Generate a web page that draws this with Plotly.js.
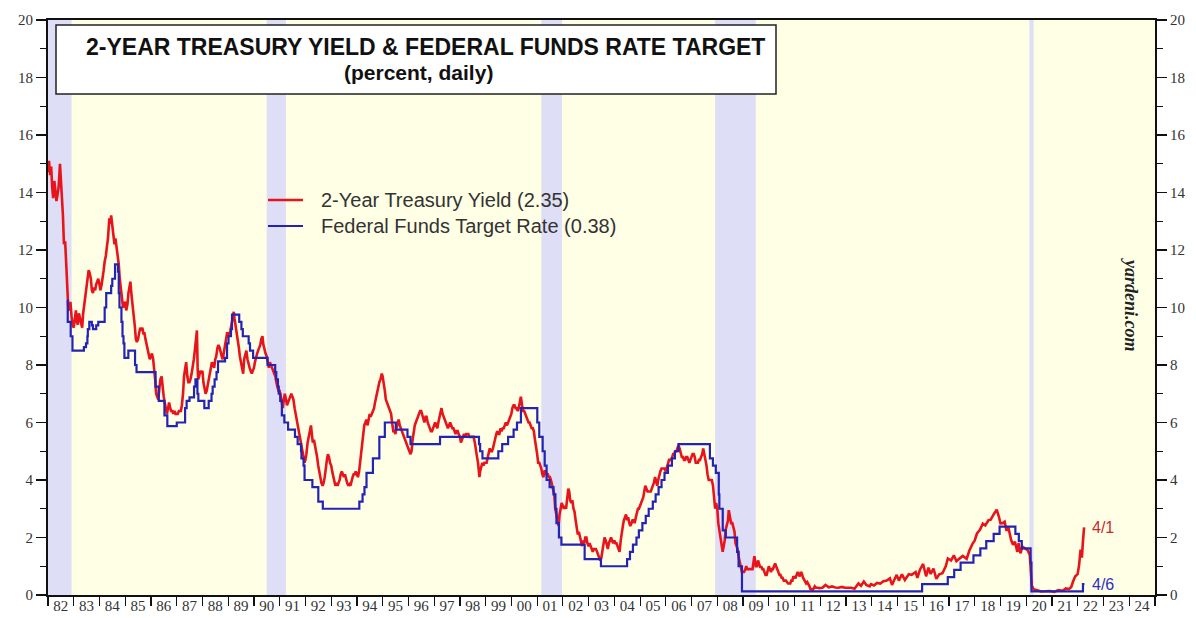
<!DOCTYPE html>
<html>
<head>
<meta charset="utf-8">
<script src="https://cdn.plot.ly/plotly-3.0.1.min.js"></script>
<style>html,body{margin:0;padding:0;background:#fff;}#chart{width:1196px;height:618px;}</style>
</head>
<body>
<div id="chart"></div>
<script>
// 2-year Treasury yield (percent)
const yield2y = [
['1982-01-04',14.7],['1982-01-15',15.1],['1982-02-01',14.6],['1982-02-15',14.9],['1982-03-01',14.2],['1982-03-15',13.8],['1982-04-01',14.4],['1982-04-15',14.0],['1982-05-01',13.7],['1982-05-15',13.9],['1982-06-01',14.2],['1982-06-20',15.0],['1982-07-01',14.6],['1982-07-15',14.0],['1982-08-01',13.2],['1982-08-15',12.2],['1982-09-01',12.3],['1982-09-15',11.6],['1982-10-01',10.9],['1982-10-15',10.0],['1982-11-01',9.9],['1982-11-15',10.2],['1982-12-01',9.7],['1982-12-15',9.4],
['1983-01-01',9.3],['1983-01-15',9.6],['1983-02-01',9.9],['1983-02-15',9.5],['1983-03-01',9.4],['1983-03-15',9.8],['1983-04-01',9.6],['1983-04-15',9.4],['1983-05-01',9.3],['1983-05-15',9.8],['1983-06-01',10.1],['1983-06-15',10.4],['1983-07-01',10.6],['1983-07-15',10.9],['1983-08-01',11.3],['1983-08-15',11.2],['1983-09-01',11.0],['1983-09-15',10.6],['1983-10-01',10.5],['1983-10-15',10.7],['1983-11-01',10.6],['1983-11-15',10.8],['1983-12-01',10.9],['1983-12-15',11.0],
['1984-01-01',10.8],['1984-01-15',10.6],['1984-02-01',10.8],['1984-02-15',11.0],['1984-03-01',11.3],['1984-03-15',11.6],['1984-04-01',11.8],['1984-04-15',12.1],['1984-05-01',12.4],['1984-05-20',13.1],['1984-06-01',12.9],['1984-06-15',13.2],['1984-07-01',12.9],['1984-07-15',12.6],['1984-08-01',12.2],['1984-08-15',12.4],['1984-09-01',12.1],['1984-09-15',11.8],['1984-10-01',11.5],['1984-10-15',11.0],['1984-11-01',10.6],['1984-11-15',10.2],['1984-12-01',10.0],['1984-12-15',10.1],
['1985-01-01',10.2],['1985-01-15',9.9],['1985-02-01',10.1],['1985-02-15',10.5],['1985-03-01',10.8],['1985-03-15',10.9],['1985-04-01',10.4],['1985-04-15',10.1],['1985-05-01',9.9],['1985-05-15',9.4],['1985-06-01',8.9],['1985-06-15',8.8],['1985-07-01',8.9],['1985-07-15',9.1],['1985-08-01',9.3],['1985-08-15',9.2],['1985-09-01',9.3],['1985-09-15',9.1],['1985-10-01',9.1],['1985-10-15',8.9],['1985-11-01',8.7],['1985-11-15',8.5],['1985-12-01',8.3],['1985-12-15',8.2],
['1986-01-01',8.3],['1986-01-15',8.4],['1986-02-01',8.2],['1986-02-15',7.9],['1986-03-01',7.5],['1986-03-15',7.0],['1986-04-01',6.9],['1986-04-15',6.8],['1986-05-01',7.2],['1986-05-15',7.5],['1986-06-01',7.6],['1986-06-15',7.1],['1986-07-01',6.9],['1986-07-15',6.7],['1986-08-01',6.5],['1986-08-15',6.3],['1986-09-01',6.5],['1986-09-15',6.7],['1986-10-01',6.5],['1986-10-15',6.4],['1986-11-01',6.4],['1986-11-15',6.3],['1986-12-01',6.4],['1986-12-15',6.3],
['1987-01-01',6.3],['1987-01-15',6.3],['1987-02-01',6.4],['1987-02-15',6.4],['1987-03-01',6.4],['1987-03-15',6.6],['1987-04-01',7.0],['1987-04-15',7.6],['1987-05-01',7.9],['1987-05-15',8.1],['1987-06-01',7.6],['1987-06-15',7.4],['1987-07-01',7.4],['1987-07-15',7.5],['1987-08-01',7.7],['1987-08-15',7.9],['1987-09-01',8.2],['1987-09-15',8.5],['1987-10-01',8.8],['1987-10-15',9.2],['1987-10-25',7.9],['1987-11-01',7.5],['1987-11-15',7.6],['1987-12-01',7.8],['1987-12-15',7.7],
['1988-01-01',7.8],['1988-01-15',7.4],['1988-02-01',7.2],['1988-02-15',7.0],['1988-03-01',7.1],['1988-03-15',7.3],['1988-04-01',7.5],['1988-04-15',7.7],['1988-05-01',8.0],['1988-05-15',8.1],['1988-06-01',8.0],['1988-06-15',7.9],['1988-07-01',8.2],['1988-07-15',8.3],['1988-08-01',8.6],['1988-08-15',8.7],['1988-09-01',8.6],['1988-09-15',8.4],['1988-10-01',8.3],['1988-10-15',8.2],['1988-11-01',8.5],['1988-11-15',8.7],['1988-12-01',9.0],['1988-12-15',9.1],
['1989-01-01',9.1],['1989-01-15',9.0],['1989-02-01',9.2],['1989-02-15',9.4],['1989-03-01',9.7],['1989-03-20',9.85],['1989-04-01',9.6],['1989-04-15',9.4],['1989-05-01',9.2],['1989-05-15',9.0],['1989-06-01',8.6],['1989-06-15',8.3],['1989-07-01',8.1],['1989-07-15',7.8],['1989-08-01',7.7],['1989-08-15',8.2],['1989-09-01',8.4],['1989-09-15',8.5],['1989-10-01',8.2],['1989-10-15',8.0],['1989-11-01',7.9],['1989-11-15',7.8],['1989-12-01',7.7],['1989-12-15',7.8],
['1990-01-01',7.9],['1990-01-15',8.1],['1990-02-01',8.3],['1990-02-15',8.4],['1990-03-01',8.5],['1990-03-15',8.6],['1990-04-01',8.7],['1990-04-15',8.9],['1990-05-01',9.0],['1990-05-15',8.7],['1990-06-01',8.5],['1990-06-15',8.4],['1990-07-01',8.3],['1990-07-15',8.1],['1990-08-01',7.9],['1990-08-15',8.1],['1990-09-01',8.0],['1990-09-15',7.9],['1990-10-01',7.8],['1990-10-15',7.7],['1990-11-01',7.6],['1990-11-15',7.4],['1990-12-01',7.2],['1990-12-15',7.1],
['1991-01-01',7.1],['1991-01-15',6.9],['1991-02-01',6.6],['1991-02-15',6.5],['1991-03-01',6.8],['1991-03-15',7.0],['1991-04-01',6.8],['1991-04-15',6.6],['1991-05-01',6.7],['1991-05-15',6.8],['1991-06-01',6.9],['1991-06-15',7.0],['1991-07-01',6.9],['1991-07-15',6.8],['1991-08-01',6.5],['1991-08-15',6.3],['1991-09-01',6.1],['1991-09-15',5.9],['1991-10-01',5.7],['1991-10-15',5.5],['1991-11-01',5.3],['1991-11-15',5.1],['1991-12-01',4.9],['1991-12-20',4.6],
['1992-01-01',4.7],['1992-01-15',4.9],['1992-02-01',5.3],['1992-02-15',5.5],['1992-03-01',5.7],['1992-03-20',5.9],['1992-04-01',5.6],['1992-04-15',5.3],['1992-05-01',5.4],['1992-05-15',5.2],['1992-06-01',5.1],['1992-06-15',4.8],['1992-07-01',4.5],['1992-07-15',4.3],['1992-08-01',4.1],['1992-08-15',3.9],['1992-09-01',3.8],['1992-09-15',3.9],['1992-10-01',4.1],['1992-10-15',4.5],['1992-11-01',4.7],['1992-11-15',4.9],['1992-12-01',4.8],['1992-12-15',4.6],
['1993-01-01',4.5],['1993-01-15',4.3],['1993-02-01',4.1],['1993-02-15',3.9],['1993-03-01',3.8],['1993-03-15',3.9],['1993-04-01',3.8],['1993-04-15',3.9],['1993-05-01',4.0],['1993-05-15',4.2],['1993-06-01',4.3],['1993-06-15',4.2],['1993-07-01',4.1],['1993-07-15',4.2],['1993-08-01',4.0],['1993-08-15',3.9],['1993-09-01',3.8],['1993-09-15',3.85],['1993-10-01',3.8],['1993-10-15',3.9],['1993-11-01',4.1],['1993-11-15',4.2],['1993-12-01',4.2],['1993-12-15',4.3],
['1994-01-01',4.2],['1994-01-15',4.1],['1994-02-01',4.3],['1994-02-15',4.6],['1994-03-01',4.9],['1994-03-15',5.2],['1994-04-01',5.6],['1994-04-15',5.9],['1994-05-01',6.0],['1994-05-15',6.1],['1994-06-01',5.9],['1994-06-15',6.1],['1994-07-01',6.3],['1994-07-15',6.2],['1994-08-01',6.3],['1994-08-15',6.4],['1994-09-01',6.5],['1994-09-15',6.7],['1994-10-01',6.9],['1994-10-15',7.0],['1994-11-01',7.2],['1994-11-15',7.4],['1994-12-01',7.5],['1994-12-20',7.7],
['1995-01-01',7.6],['1995-01-15',7.4],['1995-02-01',7.1],['1995-02-15',6.8],['1995-03-01',6.7],['1995-03-15',6.6],['1995-04-01',6.5],['1995-04-15',6.4],['1995-05-01',6.3],['1995-05-15',6.0],['1995-06-01',5.7],['1995-06-15',5.7],['1995-07-01',5.6],['1995-07-15',5.8],['1995-08-01',6.0],['1995-08-15',6.1],['1995-09-01',5.9],['1995-09-15',5.8],['1995-10-01',5.7],['1995-10-15',5.6],['1995-11-01',5.5],['1995-11-15',5.4],['1995-12-01',5.3],['1995-12-15',5.2],
['1996-01-01',5.1],['1996-01-15',5.0],['1996-02-01',4.9],['1996-02-15',5.0],['1996-03-01',5.4],['1996-03-15',5.7],['1996-04-01',5.9],['1996-04-15',6.0],['1996-05-01',6.1],['1996-05-15',6.2],['1996-06-01',6.3],['1996-06-15',6.4],['1996-07-01',6.4],['1996-07-15',6.3],['1996-08-01',6.1],['1996-08-15',6.0],['1996-09-01',6.2],['1996-09-15',6.2],['1996-10-01',6.0],['1996-10-15',5.9],['1996-11-01',5.8],['1996-11-15',5.7],['1996-12-01',5.7],['1996-12-15',5.8],
['1997-01-01',5.9],['1997-01-15',6.0],['1997-02-01',5.9],['1997-02-15',5.8],['1997-03-01',6.0],['1997-03-15',6.2],['1997-04-01',6.4],['1997-04-15',6.5],['1997-05-01',6.3],['1997-05-15',6.2],['1997-06-01',6.1],['1997-06-15',6.0],['1997-07-01',5.9],['1997-07-15',5.8],['1997-08-01',5.9],['1997-08-15',6.0],['1997-09-01',5.9],['1997-09-15',5.8],['1997-10-01',5.8],['1997-10-15',5.7],['1997-11-01',5.6],['1997-11-15',5.7],['1997-12-01',5.7],['1997-12-15',5.6],
['1998-01-01',5.5],['1998-01-15',5.3],['1998-02-01',5.4],['1998-02-15',5.5],['1998-03-01',5.6],['1998-03-15',5.5],['1998-04-01',5.6],['1998-04-15',5.6],['1998-05-01',5.6],['1998-05-15',5.5],['1998-06-01',5.5],['1998-06-15',5.5],['1998-07-01',5.5],['1998-07-15',5.5],['1998-08-01',5.3],['1998-08-15',5.0],['1998-09-01',4.8],['1998-09-15',4.6],['1998-10-05',4.1],['1998-10-15',4.3],['1998-11-01',4.5],['1998-11-15',4.6],['1998-12-01',4.5],['1998-12-15',4.6],
['1999-01-01',4.6],['1999-01-15',4.6],['1999-02-01',4.8],['1999-02-15',5.0],['1999-03-01',5.1],['1999-03-15',5.0],['1999-04-01',5.0],['1999-04-15',5.1],['1999-05-01',5.3],['1999-05-15',5.5],['1999-06-01',5.6],['1999-06-15',5.7],['1999-07-01',5.6],['1999-07-15',5.6],['1999-08-01',5.8],['1999-08-15',5.7],['1999-09-01',5.8],['1999-09-15',5.8],['1999-10-01',5.9],['1999-10-15',6.0],['1999-11-01',5.9],['1999-11-15',6.0],['1999-12-01',6.1],['1999-12-15',6.2],
['2000-01-01',6.3],['2000-01-15',6.5],['2000-02-01',6.6],['2000-02-15',6.6],['2000-03-01',6.5],['2000-03-15',6.5],['2000-04-01',6.4],['2000-04-15',6.5],['2000-05-01',6.8],['2000-05-15',6.9],['2000-06-01',6.6],['2000-06-15',6.4],['2000-07-01',6.4],['2000-07-15',6.3],['2000-08-01',6.2],['2000-08-15',6.1],['2000-09-01',6.0],['2000-09-15',6.0],['2000-10-01',5.9],['2000-10-15',5.8],['2000-11-01',5.8],['2000-11-15',5.7],['2000-12-01',5.4],['2000-12-15',5.2],
['2001-01-01',4.9],['2001-01-15',4.6],['2001-02-01',4.6],['2001-02-15',4.5],['2001-03-01',4.4],['2001-03-15',4.2],['2001-04-01',4.1],['2001-04-15',4.3],['2001-05-01',4.3],['2001-05-15',4.2],['2001-06-01',4.2],['2001-06-15',4.1],['2001-07-01',4.1],['2001-07-15',4.0],['2001-08-01',3.8],['2001-08-15',3.7],['2001-09-01',3.5],['2001-09-15',3.0],['2001-10-01',2.8],['2001-10-15',2.6],['2001-11-01',2.4],['2001-11-15',2.8],['2001-12-01',3.0],['2001-12-15',3.2],
['2002-01-01',3.1],['2002-01-15',3.0],['2002-02-01',3.1],['2002-02-15',3.0],['2002-03-01',3.3],['2002-03-20',3.7],['2002-04-01',3.6],['2002-04-15',3.3],['2002-05-01',3.2],['2002-05-15',3.3],['2002-06-01',3.0],['2002-06-15',2.9],['2002-07-01',2.6],['2002-07-15',2.4],['2002-08-01',2.1],['2002-08-15',2.2],['2002-09-01',2.0],['2002-09-15',1.9],['2002-10-01',1.7],['2002-10-15',1.9],['2002-11-01',1.8],['2002-11-15',2.0],['2002-12-01',2.0],['2002-12-15',1.8],
['2003-01-01',1.7],['2003-01-15',1.8],['2003-02-01',1.7],['2003-02-15',1.6],['2003-03-01',1.5],['2003-03-15',1.6],['2003-04-01',1.6],['2003-04-15',1.6],['2003-05-01',1.5],['2003-05-15',1.4],['2003-06-01',1.3],['2003-06-15',1.2],['2003-07-01',1.3],['2003-07-15',1.5],['2003-08-01',1.8],['2003-08-15',2.0],['2003-09-01',1.9],['2003-09-15',1.7],['2003-10-01',1.6],['2003-10-15',1.8],['2003-11-01',1.9],['2003-11-15',2.0],['2003-12-01',1.9],['2003-12-15',1.8],
['2004-01-01',1.9],['2004-01-15',1.8],['2004-02-01',1.8],['2004-02-15',1.7],['2004-03-01',1.6],['2004-03-15',1.5],['2004-04-01',1.9],['2004-04-15',2.2],['2004-05-01',2.4],['2004-05-15',2.6],['2004-06-01',2.7],['2004-06-15',2.8],['2004-07-01',2.6],['2004-07-15',2.7],['2004-08-01',2.5],['2004-08-15',2.4],['2004-09-01',2.5],['2004-09-15',2.6],['2004-10-01',2.6],['2004-10-15',2.5],['2004-11-01',2.7],['2004-11-15',2.9],['2004-12-01',3.0],['2004-12-15',3.0],
['2005-01-01',3.1],['2005-01-15',3.2],['2005-02-01',3.3],['2005-02-15',3.4],['2005-03-01',3.6],['2005-03-15',3.8],['2005-04-01',3.7],['2005-04-15',3.6],['2005-05-01',3.6],['2005-05-15',3.6],['2005-06-01',3.6],['2005-06-15',3.7],['2005-07-01',3.8],['2005-07-15',3.9],['2005-08-01',4.1],['2005-08-15',4.0],['2005-09-01',3.8],['2005-09-15',4.0],['2005-10-01',4.2],['2005-10-15',4.3],['2005-11-01',4.4],['2005-11-15',4.4],['2005-12-01',4.4],['2005-12-15',4.4],
['2006-01-01',4.3],['2006-01-15',4.4],['2006-02-01',4.6],['2006-02-15',4.7],['2006-03-01',4.7],['2006-03-15',4.7],['2006-04-01',4.8],['2006-04-15',4.9],['2006-05-01',4.9],['2006-05-15',5.0],['2006-06-01',5.0],['2006-06-28',5.2],['2006-07-15',5.1],['2006-08-01',4.9],['2006-08-15',4.8],['2006-09-01',4.8],['2006-09-15',4.7],['2006-10-01',4.7],['2006-10-15',4.8],['2006-11-01',4.8],['2006-11-15',4.7],['2006-12-01',4.6],['2006-12-15',4.7],
['2007-01-01',4.8],['2007-01-15',4.9],['2007-02-01',4.9],['2007-02-15',4.8],['2007-03-01',4.6],['2007-03-15',4.6],['2007-04-01',4.6],['2007-04-15',4.7],['2007-05-01',4.7],['2007-05-15',4.8],['2007-06-01',4.9],['2007-06-15',5.1],['2007-07-01',4.9],['2007-07-15',4.8],['2007-08-01',4.5],['2007-08-15',4.2],['2007-09-01',4.0],['2007-09-15',4.0],['2007-10-01',4.0],['2007-10-15',4.0],['2007-11-01',3.8],['2007-11-15',3.3],['2007-12-01',3.0],['2007-12-15',3.2],
['2008-01-01',3.0],['2008-01-15',2.5],['2008-02-01',2.2],['2008-02-15',1.9],['2008-03-01',1.6],['2008-03-17',1.5],['2008-04-01',1.7],['2008-04-15',1.9],['2008-05-01',2.3],['2008-05-15',2.4],['2008-06-01',2.6],['2008-06-12',2.95],['2008-07-01',2.6],['2008-07-15',2.5],['2008-08-01',2.5],['2008-08-15',2.4],['2008-09-01',2.2],['2008-09-15',1.8],['2008-10-01',1.7],['2008-10-15',1.6],['2008-11-01',1.3],['2008-11-15',1.1],['2008-12-01',0.9],['2008-12-15',0.8],
['2009-01-01',0.8],['2009-01-15',0.8],['2009-02-01',0.9],['2009-02-15',1.0],['2009-03-01',0.9],['2009-03-15',0.9],['2009-04-01',0.9],['2009-04-15',0.9],['2009-05-01',0.9],['2009-05-15',0.9],['2009-06-01',1.2],['2009-06-10',1.35],['2009-07-01',1.0],['2009-07-15',1.0],['2009-08-01',1.2],['2009-08-15',1.1],['2009-09-01',0.95],['2009-09-15',1.0],['2009-10-01',0.9],['2009-10-15',0.9],['2009-11-01',0.8],['2009-11-15',0.7],['2009-12-01',0.7],['2009-12-15',0.9],
['2010-01-01',1.0],['2010-01-15',0.9],['2010-02-01',0.8],['2010-02-15',0.9],['2010-03-01',0.9],['2010-03-15',1.0],['2010-04-01',1.1],['2010-04-15',1.0],['2010-05-01',0.9],['2010-05-15',0.8],['2010-06-01',0.7],['2010-06-15',0.7],['2010-07-01',0.6],['2010-07-15',0.6],['2010-08-01',0.5],['2010-08-15',0.5],['2010-09-01',0.5],['2010-09-15',0.45],['2010-10-01',0.4],['2010-10-15',0.4],['2010-11-01',0.4],['2010-11-15',0.5],['2010-12-01',0.5],['2010-12-15',0.65],
['2011-01-01',0.6],['2011-01-15',0.6],['2011-02-01',0.7],['2011-02-15',0.8],['2011-03-01',0.7],['2011-03-15',0.65],['2011-04-01',0.8],['2011-04-15',0.75],['2011-05-01',0.6],['2011-05-15',0.55],['2011-06-01',0.45],['2011-06-15',0.4],['2011-07-01',0.45],['2011-07-15',0.4],['2011-08-01',0.3],['2011-08-15',0.2],['2011-09-01',0.2],['2011-09-15',0.17],['2011-10-01',0.25],['2011-10-15',0.3],['2011-11-01',0.25],['2011-11-15',0.26],['2011-12-01',0.25],['2011-12-15',0.24],
['2012-02-01',0.25],['2012-03-15',0.35],['2012-05-01',0.27],['2012-06-15',0.3],['2012-08-01',0.26],['2012-09-15',0.25],['2012-11-01',0.28],['2012-12-15',0.25],
['2013-02-01',0.26],['2013-03-15',0.25],['2013-05-01',0.22],['2013-06-25',0.4],['2013-08-01',0.32],['2013-09-10',0.47],['2013-10-15',0.35],['2013-12-01',0.3],['2013-12-20',0.38],
['2014-02-01',0.33],['2014-03-15',0.42],['2014-05-01',0.4],['2014-06-15',0.48],['2014-08-01',0.5],['2014-09-15',0.58],['2014-10-15',0.35],['2014-11-15',0.52],['2014-12-20',0.7],
['2015-01-20',0.5],['2015-03-05',0.72],['2015-04-15',0.52],['2015-06-10',0.72],['2015-07-20',0.7],['2015-09-15',0.8],['2015-10-10',0.6],['2015-11-15',0.88],['2015-12-30',1.08],
['2016-02-10',0.65],['2016-03-15',0.95],['2016-04-15',0.73],['2016-05-25',0.92],['2016-07-05',0.56],['2016-08-15',0.72],['2016-09-30',0.76],['2016-11-15',1.0],['2016-12-15',1.27],
['2017-01-30',1.2],['2017-03-10',1.38],['2017-04-15',1.18],['2017-06-01',1.28],['2017-07-15',1.36],['2017-09-08',1.26],['2017-10-15',1.54],['2017-11-30',1.78],['2017-12-30',1.89],
['2018-02-01',2.14],['2018-03-15',2.27],['2018-04-25',2.48],['2018-05-30',2.42],['2018-07-15',2.6],['2018-08-15',2.62],['2018-09-30',2.82],['2018-11-08',2.97],['2018-12-10',2.72],['2018-12-31',2.49],
['2019-02-01',2.5],['2019-03-01',2.55],['2019-03-28',2.23],['2019-04-20',2.38],['2019-05-31',1.92],['2019-06-28',1.75],['2019-07-25',1.85],['2019-08-28',1.5],['2019-09-15',1.8],['2019-10-10',1.45],['2019-11-10',1.68],['2019-12-31',1.58],
['2020-01-20',1.56],['2020-02-20',1.4],['2020-03-02',0.84],['2020-03-20',0.33],['2020-04-15',0.2],['2020-06-01',0.17],['2020-08-01',0.12],['2020-10-01',0.13],['2020-12-01',0.14],
['2021-02-01',0.11],['2021-04-01',0.17],['2021-06-01',0.15],['2021-07-15',0.23],['2021-09-01',0.21],['2021-10-01',0.28],['2021-10-25',0.46],['2021-11-25',0.64],['2021-12-31',0.73],
['2022-01-20',1.04],['2022-02-10',1.58],['2022-03-01',1.3],['2022-03-15',1.85],['2022-03-31',2.28],['2022-04-01',2.35]
];

// Federal funds target rate (percent), step changes
const fedFundsTarget = [
['1982-09-27',10.25],['1982-10-08',9.5],['1982-11-19',9.0],['1982-12-14',8.5],['1983-05-25',8.625],['1983-06-24',8.75],['1983-07-14',9.0],['1983-07-20',9.25],['1983-08-10',9.5],['1983-09-15',9.375],['1983-10-01',9.25],['1983-11-16',9.375],['1983-12-15',9.5],
['1984-03-15',10.0],['1984-04-06',10.5],['1984-06-15',10.75],['1984-07-01',11.0],['1984-08-09',11.5],['1984-09-20',11.25],['1984-10-01',10.5],['1984-10-11',10.0],['1984-11-08',9.5],['1984-11-23',9.0],['1984-12-07',8.75],['1984-12-20',8.25],
['1985-02-14',8.5],['1985-05-20',8.0],['1985-06-10',7.75],['1986-03-07',7.25],['1986-04-21',6.75],['1986-07-11',6.25],['1986-08-21',5.875],
['1987-01-02',6.0],['1987-04-30',6.5],['1987-05-22',6.75],['1987-07-02',6.875],['1987-09-04',7.25],['1987-09-24',7.5],['1987-10-22',7.0],['1987-11-04',6.75],
['1988-01-28',6.5],['1988-03-30',6.75],['1988-05-09',7.0],['1988-05-25',7.25],['1988-06-22',7.5],['1988-07-19',7.75],['1988-08-09',8.125],['1988-11-17',8.25],['1988-12-15',8.75],
['1989-01-05',9.0],['1989-02-09',9.25],['1989-02-24',9.75],['1989-06-06',9.5],['1989-07-07',9.25],['1989-07-27',9.0],['1989-10-18',8.75],['1989-11-06',8.5],['1989-12-20',8.25],
['1990-07-13',8.0],['1990-10-29',7.75],['1990-11-14',7.5],['1990-12-07',7.25],['1990-12-19',7.0],
['1991-01-09',6.75],['1991-02-01',6.25],['1991-03-08',6.0],['1991-04-30',5.75],['1991-08-06',5.5],['1991-09-13',5.25],['1991-10-31',5.0],['1991-11-06',4.75],['1991-12-06',4.5],['1991-12-20',4.0],
['1992-04-09',3.75],['1992-07-02',3.25],['1992-09-04',3.0],
['1994-02-04',3.25],['1994-03-22',3.5],['1994-04-18',3.75],['1994-05-17',4.25],['1994-08-16',4.75],['1994-11-15',5.5],['1995-02-01',6.0],['1995-07-06',5.75],['1995-12-19',5.5],['1996-01-31',5.25],['1997-03-25',5.5],
['1998-09-29',5.25],['1998-10-15',5.0],['1998-11-17',4.75],['1999-06-30',5.0],['1999-08-24',5.25],['1999-11-16',5.5],['2000-02-02',5.75],['2000-03-21',6.0],['2000-05-16',6.5],
['2001-01-03',6.0],['2001-01-31',5.5],['2001-03-20',5.0],['2001-04-18',4.5],['2001-05-15',4.0],['2001-06-27',3.75],['2001-08-21',3.5],['2001-09-17',3.0],['2001-10-02',2.5],['2001-11-06',2.0],['2001-12-11',1.75],
['2002-11-06',1.25],['2003-06-25',1.0],
['2004-06-30',1.25],['2004-08-10',1.5],['2004-09-21',1.75],['2004-11-10',2.0],['2004-12-14',2.25],['2005-02-02',2.5],['2005-03-22',2.75],['2005-05-03',3.0],['2005-06-30',3.25],['2005-08-09',3.5],['2005-09-20',3.75],['2005-11-01',4.0],['2005-12-13',4.25],['2006-01-31',4.5],['2006-03-28',4.75],['2006-05-10',5.0],['2006-06-29',5.25],
['2007-09-18',4.75],['2007-10-31',4.5],['2007-12-11',4.25],['2008-01-22',3.5],['2008-01-30',3.0],['2008-03-18',2.25],['2008-04-30',2.0],['2008-10-08',1.5],['2008-10-29',1.0],['2008-12-16',0.125],
['2015-12-16',0.375],['2016-12-14',0.625],['2017-03-15',0.875],['2017-06-14',1.125],['2017-12-13',1.375],['2018-03-21',1.625],['2018-06-13',1.875],['2018-09-26',2.125],['2018-12-19',2.375],
['2019-07-31',2.125],['2019-09-18',1.875],['2019-10-30',1.625],['2020-03-03',1.125],['2020-03-15',0.125],['2022-03-16',0.375],['2022-04-06',0.375]
];

// Recession periods (shaded)
const recessionStarts = ['1982-01-01','1990-07-01','2001-03-01','2007-12-01','2020-02-15'];
const recessionEnds   = ['1982-12-01','1991-03-31','2001-12-20','2009-06-30','2020-04-15'];

const chartTitle = ['2-YEAR TREASURY YIELD & FEDERAL FUNDS RATE TARGET', '(percent, daily)'];
const seriesNames = ['2-Year Treasury Yield (2.35)', 'Federal Funds Target Rate (0.38)'];
const endLabels = ['4/1', '4/6'];
const sourceNote = 'yardeni.com';

const RED = '#E8141B', BLUE = '#2424B4';

const traces = [
  {x: yield2y.map(p => p[0]), y: yield2y.map(p => p[1]), type: 'scatter', mode: 'lines',
   line: {color: RED, width: 2.6}, name: seriesNames[0], hoverinfo: 'x+y'},
  {x: fedFundsTarget.map(p => p[0]), y: fedFundsTarget.map(p => p[1]), type: 'scatter', mode: 'lines',
   line: {color: BLUE, width: 2.2, shape: 'hv'}, name: seriesNames[1], hoverinfo: 'x+y'},
  {x: [], y: [], yaxis: 'y2', type: 'scatter', mode: 'lines', showlegend: false, hoverinfo: 'skip'},
  {x: [], y: [], xaxis: 'x2', type: 'scatter', mode: 'lines', showlegend: false, hoverinfo: 'skip'}
];

const shapes = recessionStarts.map((s, i) => ({
  type: 'rect', xref: 'x', yref: 'paper', x0: s, x1: recessionEnds[i], y0: 0, y1: 1,
  fillcolor: '#DEDEF6', line: {width: 0}, layer: 'below'
}));

// px helpers for paper coords (plot area: x 48..1155, y 20..595)
const PL = 48, PR = 1155, PT = 20, PB = 595;
const px = v => (v - PL) / (PR - PL);
const py = v => (PB - v) / (PB - PT);

// title box
shapes.push({type: 'rect', xref: 'paper', yref: 'paper', x0: px(56), x1: px(776), y0: py(94), y1: py(25),
  fillcolor: '#FFFFFF', line: {color: '#222', width: 1.5}, layer: 'above'});
// legend sample lines
shapes.push({type: 'line', xref: 'paper', yref: 'paper', x0: px(268), x1: px(303), y0: py(200), y1: py(200),
  line: {color: RED, width: 2.6}});
shapes.push({type: 'line', xref: 'paper', yref: 'paper', x0: px(268), x1: px(303), y0: py(226), y1: py(226),
  line: {color: BLUE, width: 2.2}});

const annotations = [
  {xref: 'paper', yref: 'paper', x: px(425), y: py(47), text: '<b>' + chartTitle[0] + '</b>', showarrow: false,
   font: {family: 'Liberation Sans, Arial, sans-serif', size: 23, color: '#111'}, xanchor: 'center', yanchor: 'middle'},
  {xref: 'paper', yref: 'paper', x: px(418), y: py(73), text: '<b>' + chartTitle[1] + '</b>', showarrow: false,
   font: {family: 'Liberation Sans, Arial, sans-serif', size: 21, color: '#111'}, xanchor: 'center', yanchor: 'middle'},
  {xref: 'paper', yref: 'paper', x: px(319), y: py(200), text: seriesNames[0], showarrow: false,
   font: {family: 'Liberation Sans, Arial, sans-serif', size: 20, color: '#333'}, xanchor: 'left', yanchor: 'middle'},
  {xref: 'paper', yref: 'paper', x: px(319), y: py(226), text: seriesNames[1], showarrow: false,
   font: {family: 'Liberation Sans, Arial, sans-serif', size: 20, color: '#333'}, xanchor: 'left', yanchor: 'middle'},
  {xref: 'x', yref: 'y', x: yield2y[yield2y.length - 1][0], y: yield2y[yield2y.length - 1][1], text: endLabels[0],
   showarrow: false, xanchor: 'left', yanchor: 'middle', xshift: 6,
   font: {family: 'Liberation Sans, Arial, sans-serif', size: 16, color: '#C8282E'}},
  {xref: 'x', yref: 'y', x: fedFundsTarget[fedFundsTarget.length - 1][0], y: fedFundsTarget[fedFundsTarget.length - 1][1], text: endLabels[1],
   showarrow: false, xanchor: 'left', yanchor: 'middle', xshift: 6,
   font: {family: 'Liberation Sans, Arial, sans-serif', size: 16, color: '#3030C0'}},
  {xref: 'paper', yref: 'paper', x: px(1131), y: py(305), text: '<b><i>' + sourceNote + '</i></b>', showarrow: false,
   textangle: 90, xanchor: 'center', yanchor: 'middle',
   font: {family: 'Liberation Serif, Times New Roman, serif', size: 18, color: '#222'}}
];

const tickFont = {family: 'Liberation Serif, Times New Roman, serif', size: 15, color: '#333'};
const yCommon = {
  range: [0, 20], dtick: 2, tick0: 0, ticks: 'outside', ticklen: 10, tickwidth: 1.2, tickcolor: '#111',
  showline: true, linecolor: '#111', linewidth: 2, showgrid: false, zeroline: false,
  tickfont: tickFont, fixedrange: true,
  minor: {dtick: 1, ticks: 'outside', ticklen: 6, tickwidth: 1.2, tickcolor: '#111', showgrid: false}
};

const layout = {
  width: 1196, height: 618,
  margin: {l: PL, r: 1196 - PR, t: PT, b: 618 - PB, pad: 0},
  paper_bgcolor: '#FFFFFF', plot_bgcolor: '#FFFFE6',
  showlegend: false,
  xaxis: {
    type: 'date', range: ['1982-01-01', '2025-01-01'], dtick: 'M12', tick0: '1982-01-01',
    showticklabels: false, ticks: 'outside', ticklen: 9, tickwidth: 1.2, tickcolor: '#111',
    showline: true, linecolor: '#111', linewidth: 2, mirror: true, showgrid: false, zeroline: false,
    automargin: false, fixedrange: true
  },
  xaxis2: {
    type: 'date', overlaying: 'x', matches: 'x', anchor: 'y', side: 'bottom',
    dtick: 'M12', tick0: '1982-01-01', tickformat: '%y', ticklabelmode: 'period',
    ticks: '', showline: false, showgrid: false, zeroline: false,
    tickfont: tickFont, automargin: false, fixedrange: true
  },
  yaxis: Object.assign({}, yCommon, {side: 'left', automargin: false}),
  yaxis2: Object.assign({}, yCommon, {side: 'right', overlaying: 'y', anchor: 'x', automargin: false}),
  shapes: shapes,
  annotations: annotations
};

Plotly.newPlot('chart', traces, layout, {staticPlot: true, displayModeBar: false});
</script>
</body>
</html>
